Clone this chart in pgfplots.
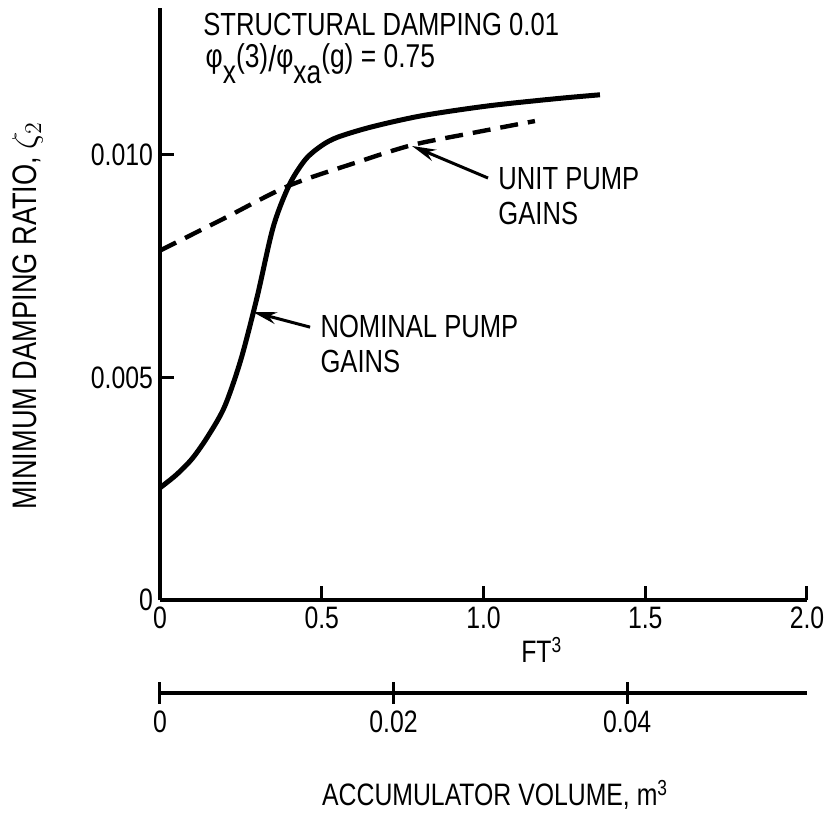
\documentclass[border=0pt]{standalone}
\usepackage{pgfplots}
\pgfplotsset{compat=1.18}
\usetikzlibrary{arrows.meta}
\usepackage{fontspec}
\setmainfont{Liberation Sans}[FakeStretch=0.8]

\pgfplotstableread{
x y
0.000 0.00252
0.050 0.00281
0.100 0.00318
0.150 0.00370
0.200 0.00435
0.250 0.00540
0.300 0.00680
0.350 0.00838
0.400 0.00933
0.450 0.00990
0.500 0.01021
0.550 0.01040
0.655 0.01063
0.810 0.01088
1.014 0.01110
1.221 0.01126
1.360 0.01135
}\nominal

\pgfplotstableread{
x y
0.000 0.00785
0.192 0.00855
0.396 0.00930
0.603 0.00982
0.779 0.01022
0.964 0.01049
1.159 0.01076
}\unit

\begin{document}
\begin{tikzpicture}
\begin{axis}[
  scale only axis, width=323.5pt, height=296pt,
  xmin=0, xmax=2, ymin=0, ymax=0.0133,
  axis lines=left, axis line style={-, line width=2.2pt},
  tick align=inside, major tick length=7pt, tick style={line width=1.5pt,black},
  xtick={0,0.5,1,1.5,2}, xticklabels={0,0.5,1.0,1.5,2.0},
  ytick={0,0.005,0.01}, yticklabels={0,0.005,0.010},
  scaled y ticks=false,
  ticklabel style={font=\fontsize{15.5}{15.5}\selectfont},
  /pgf/number format/assume math mode=true,
  ylabel={MINIMUM DAMPING RATIO, $\zeta_2$},
  ylabel style={font=\fontsize{17}{17}\selectfont, at={(axis description cs:-0.205,0.48)}, anchor=center},
  clip=false,
]
\addplot[line width=2.5pt, smooth, tension=0.5] table {\nominal};
\addplot[line width=2.2pt, dash pattern=on 9pt off 5pt, smooth] table {\unit};

\draw[line width=1.5pt, -{Stealth[length=12pt,width=6pt]}] (axis cs:1.014,0.00948) -- (axis cs:0.779,0.01020);
\draw[line width=1.5pt, -{Stealth[length=12pt,width=6pt]}] (axis cs:0.464,0.00613) -- (axis cs:0.287,0.00647);
\node[anchor=west, align=left, inner sep=0, font=\fontsize{16}{17.5}\selectfont] at (axis cs:1.045,0.00908) {UNIT PUMP\\GAINS};
\node[anchor=west, align=left, inner sep=0, font=\fontsize{16}{17.5}\selectfont] at (axis cs:0.495,0.00575) {NOMINAL PUMP\\GAINS};
\node[anchor=west, inner sep=0, font=\fontsize{16}{16}\selectfont] at (axis cs:0.133,0.01294) {STRUCTURAL DAMPING 0.01};
\node[anchor=west, inner sep=0, font=\fontsize{16.5}{16.5}\selectfont] at (axis cs:0.140,0.01205) {φ\raisebox{-0.9ex}{x}(3)\raisebox{-0.25ex}{\fontsize{18}{18}\selectfont/}φ\raisebox{-0.9ex}{xa}(g) = 0.75};
\node[font=\fontsize{15.5}{15.5}\selectfont] at (axis cs:1.18,0) [yshift=-25pt] {FT\textsuperscript{3}};
\end{axis}

\begin{axis}[
  at={(0pt,-46.5pt)}, anchor=south west,
  scale only axis, width=323.5pt, height=20pt,
  xmin=0, xmax=0.0554, ymin=0, ymax=1,
  axis x line=bottom, axis y line=none,
  axis line style={-, line width=2pt},
  xtick={0,0.02,0.04}, xticklabels={0,0.02,0.04},
  scaled x ticks=false,
  tick align=center, major tick length=11pt, tick style={line width=1.5pt,black},
  ticklabel style={font=\fontsize{15.5}{15.5}\selectfont},
  xlabel={ACCUMULATOR VOLUME, m\textsuperscript{3}},
  xlabel style={font=\fontsize{15.5}{15.5}\selectfont, at={(axis description cs:0.518,0)}, yshift=-51pt, anchor=center},
  clip=false,
]
\addplot[draw=none] coordinates {(0,0)};
\end{axis}
\pgfresetboundingbox
\path (-80pt,-106.5pt) rectangle (336pt,300pt);
\end{tikzpicture}
\end{document}
